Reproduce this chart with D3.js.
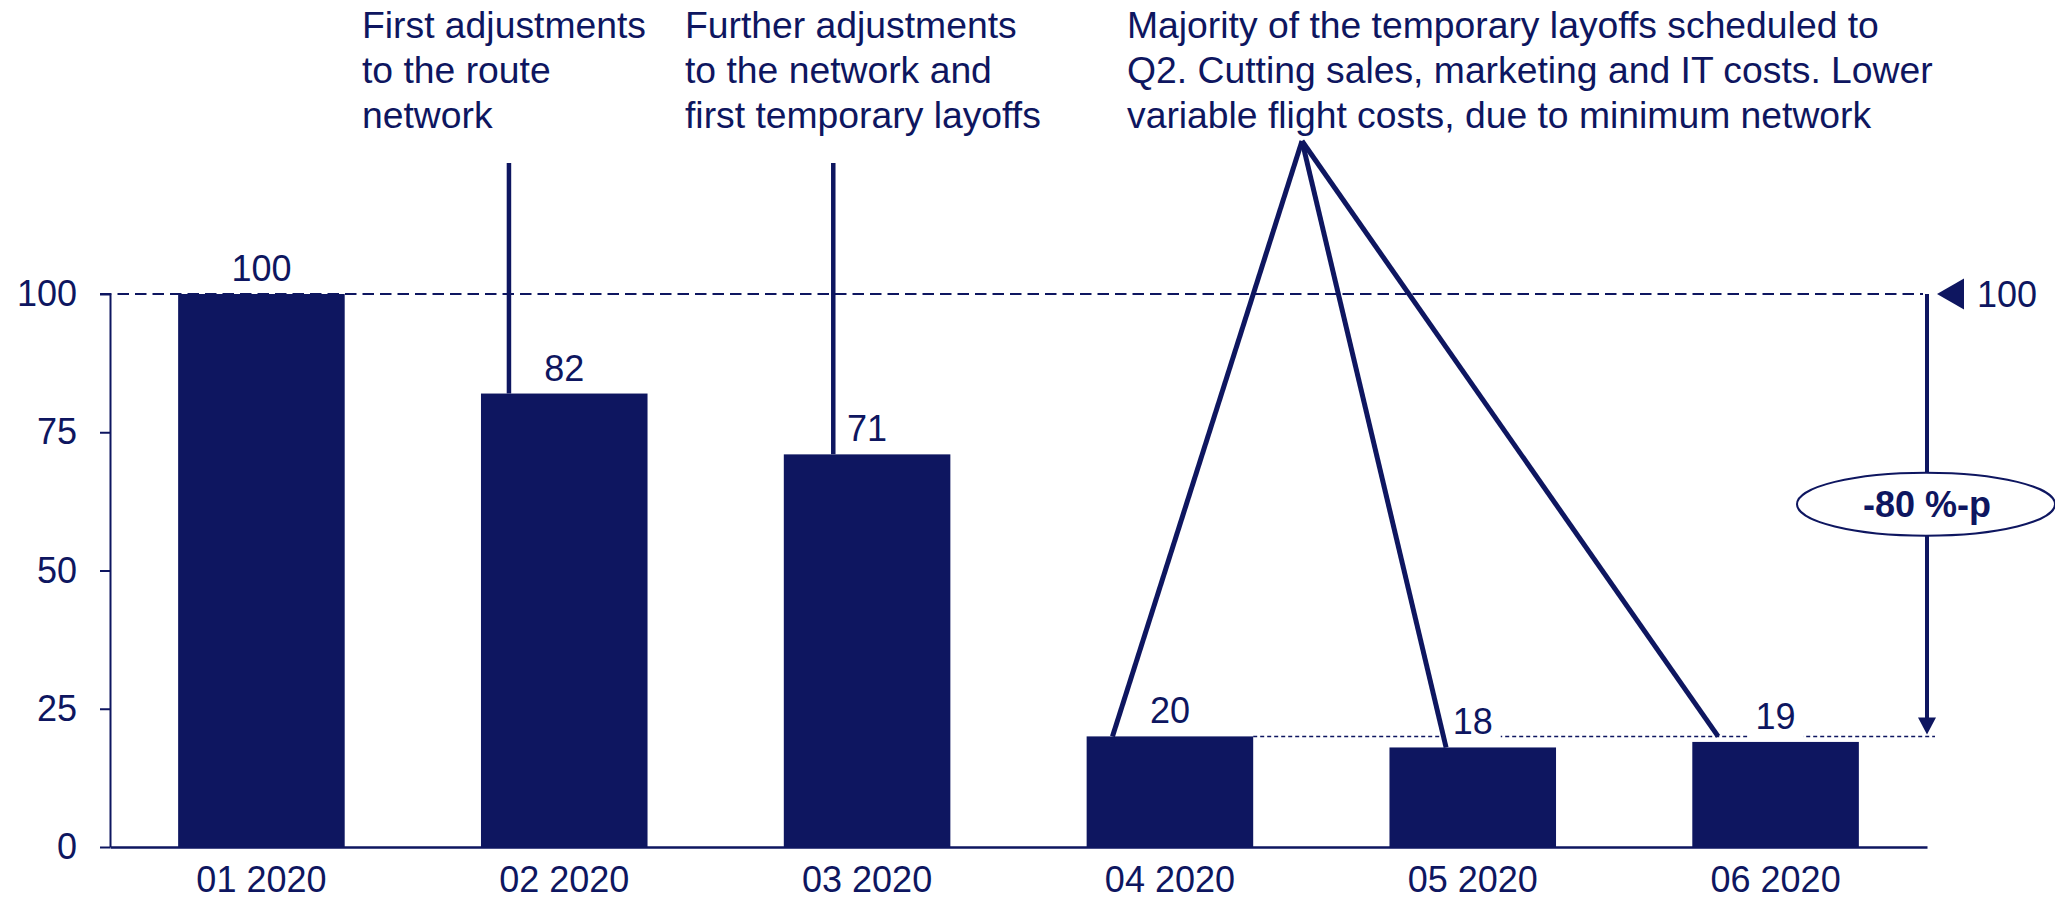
<!DOCTYPE html>
<html>
<head>
<meta charset="utf-8">
<script src="https://cdn.jsdelivr.net/npm/d3@7/dist/d3.min.js"></script>
<style>
  html, body { margin: 0; padding: 0; background: #fff; }
  svg { display: block; }
  text { font-family: "Liberation Sans", Arial, sans-serif; }
</style>
</head>
<body>
<svg id="chart" width="2055" height="901"></svg>
<script>
// Monthly cost index, January 2020 = 100
const categories = ["01 2020", "02 2020", "03 2020", "04 2020", "05 2020", "06 2020"];
const values = [100, 82, 71, 20, 18, 19];
const yTicks = [0, 25, 50, 75, 100];

const baseValue = 100;
const floorValue = 20;
const changeLabel = "-80 %-p";

// Callout texts and the bars they point at
const noteFirst = ["First adjustments", "to the route", "network"];
const noteFurther = ["Further adjustments", "to the network and", "first temporary layoffs"];
const noteQ2 = [
  "Majority of the temporary layoffs scheduled to",
  "Q2. Cutting sales, marketing and IT costs. Lower",
  "variable flight costs, due to minimum network"
];

const navy = "#0e1660";
const fontSize = 36;
const noteFontSize = 37.3;

const svg = d3.select("#chart");

const x = d3.scaleBand()
  .domain(categories)
  .range([110, 1927])
  .paddingInner(0.45)
  .paddingOuter(0.225);

const y = d3.scaleLinear()
  .domain([0, 100])
  .range([847, 294]);

const bw = x.bandwidth();

// Y axis
const yAxis = svg.append("g")
  .attr("transform", `translate(${x.range()[0]},0)`)
  .call(d3.axisLeft(y).tickValues(yTicks).tickSizeInner(10).tickSizeOuter(0).tickPadding(23));
yAxis.select(".domain").attr("stroke", navy).attr("stroke-width", 2);
yAxis.selectAll(".tick line").attr("stroke", navy).attr("stroke-width", 2);
yAxis.selectAll(".tick text").attr("fill", navy).attr("font-size", fontSize)
  .attr("font-family", '"Liberation Sans", Arial, sans-serif');

// Bars
svg.append("g").selectAll("rect")
  .data(values)
  .join("rect")
  .attr("x", (d, i) => x(categories[i]))
  .attr("y", d => y(d))
  .attr("width", bw)
  .attr("height", d => y(0) - y(d))
  .attr("fill", navy);

// X axis
const xAxis = svg.append("g")
  .attr("transform", `translate(0,${y(0)})`)
  .call(d3.axisBottom(x).tickSize(0).tickPadding(19));
xAxis.select(".domain").attr("stroke", navy).attr("stroke-width", 2.5);
xAxis.selectAll(".tick text").attr("fill", navy).attr("font-size", fontSize)
  .attr("font-family", '"Liberation Sans", Arial, sans-serif');

const arrowX = x.range()[1];

// Reference line at the January level
svg.append("line")
  .attr("x1", x.range()[0] - 10).attr("x2", arrowX - 4)
  .attr("y1", y(baseValue)).attr("y2", y(baseValue))
  .attr("stroke", navy).attr("stroke-width", 2)
  .attr("stroke-dasharray", "11.5,6");

// Reference line at the April level
const floorY = y(floorValue);
svg.append("line")
  .attr("x1", x(categories[3]) + bw).attr("x2", arrowX + 8)
  .attr("y1", floorY).attr("y2", floorY)
  .attr("stroke", navy).attr("stroke-width", 1.5)
  .attr("stroke-dasharray", "4,3");

// White gaps in the April line behind the value labels that cross it
values.forEach((v, i) => {
  const base = y(v) - 13;
  if (i > 3 && base + 8 > floorY) {
    const cx = x(categories[i]) + bw / 2;
    svg.append("rect")
      .attr("x", cx - 28).attr("y", floorY - 3)
      .attr("width", 56).attr("height", 6)
      .attr("fill", "#fff");
  }
});

// Vertical callout lines
const noteTop = 163;
const verticalCallouts = [
  { idx: 1, frac: 0.168 },
  { idx: 2, frac: 0.297 }
];
verticalCallouts.forEach(c => {
  const cx = x(categories[c.idx]) + c.frac * bw;
  svg.append("line")
    .attr("x1", cx).attr("x2", cx)
    .attr("y1", noteTop).attr("y2", y(values[c.idx]))
    .attr("stroke", navy).attr("stroke-width", 4.5);
});

// Fan of lines from the Q2 note to the Q2 bars
const apex = { x: x(categories[3]) + 1.293 * bw, y: 141 };
const fanTargets = [
  { idx: 3, frac: 0.155, v: values[3] },
  { idx: 4, frac: 0.34, v: values[4] },
  { idx: 5, frac: 0.155, v: floorValue }
];
fanTargets.forEach(t => {
  svg.append("line")
    .attr("x1", apex.x).attr("y1", apex.y)
    .attr("x2", x(categories[t.idx]) + t.frac * bw).attr("y2", y(t.v))
    .attr("stroke", navy).attr("stroke-width", 5)
    .attr("stroke-linecap", "butt");
});

// Value labels
svg.append("g").selectAll("text")
  .data(values)
  .join("text")
  .attr("x", (d, i) => x(categories[i]) + bw / 2)
  .attr("y", d => y(d) - 13)
  .attr("text-anchor", "middle")
  .attr("fill", navy)
  .attr("font-size", fontSize)
  .text(d => d);

// Change arrow on the right
const headLen = 17;
svg.append("line")
  .attr("x1", arrowX).attr("x2", arrowX)
  .attr("y1", y(baseValue)).attr("y2", floorY - 2 - headLen + 1)
  .attr("stroke", navy).attr("stroke-width", 4);
svg.append("path")
  .attr("d", `M${arrowX - 9},${floorY - 2 - headLen} L${arrowX + 9},${floorY - 2 - headLen} L${arrowX},${floorY - 2} Z`)
  .attr("fill", navy);

// Marker and level label at the January value
const markY = y(baseValue);
svg.append("path")
  .attr("d", `M${arrowX + 10},${markY} L${arrowX + 37},${markY - 15.5} L${arrowX + 37},${markY + 15.5} Z`)
  .attr("fill", navy);
svg.append("text")
  .attr("x", arrowX + 50).attr("y", markY + 13)
  .attr("fill", navy).attr("font-size", fontSize)
  .text(baseValue);

// Change bubble
const bubbleY = y(62);
svg.append("ellipse")
  .attr("cx", arrowX - 1).attr("cy", bubbleY)
  .attr("rx", 129).attr("ry", 31.5)
  .attr("fill", "#fff").attr("stroke", navy).attr("stroke-width", 2);
svg.append("text")
  .attr("x", arrowX).attr("y", bubbleY + 12.5)
  .attr("text-anchor", "middle")
  .attr("fill", navy).attr("font-size", fontSize).attr("font-weight", "bold")
  .text(changeLabel);

// Callout texts
function note(lines, left) {
  const t = svg.append("text").attr("fill", navy).attr("font-size", noteFontSize);
  lines.forEach((line, k) => {
    t.append("tspan").attr("x", left).attr("y", 38 + k * 45).text(line);
  });
}
note(noteFirst, 362);
note(noteFurther, 685);
note(noteQ2, 1127);
</script>
</body>
</html>
